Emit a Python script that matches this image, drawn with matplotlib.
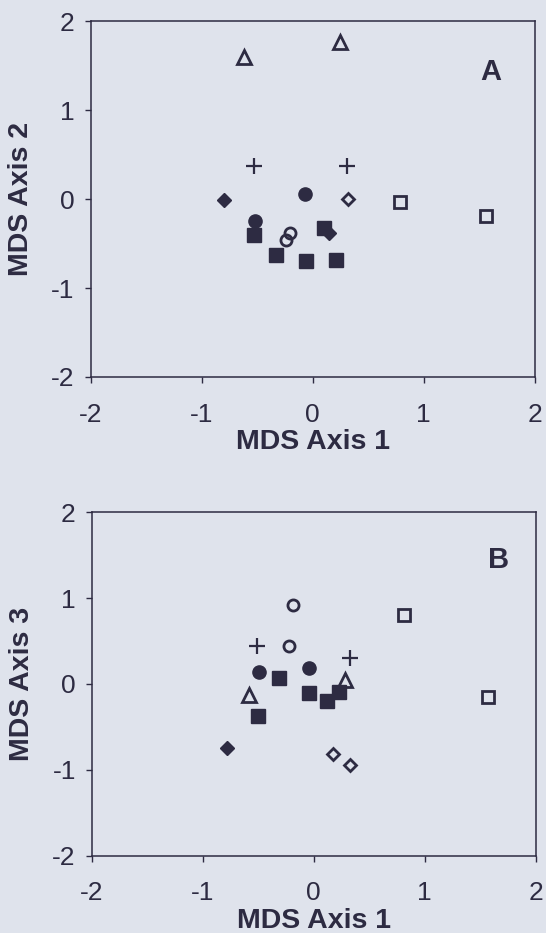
import matplotlib
matplotlib.use("Agg")
from matplotlib import pyplot as plt

# panel A: MDS axis 1 vs axis 2
a_fsq_x = [-0.53, 0.10, -0.33, -0.06, 0.21]
a_fsq_y = [-0.40, -0.32, -0.63, -0.70, -0.68]
a_fci_x = [-0.07, -0.52]
a_fci_y = [0.06, -0.24]
a_fdi_x = [-0.80, 0.15]
a_fdi_y = [-0.01, -0.38]
a_oci_x = [-0.20, -0.24]
a_oci_y = [-0.38, -0.46]
a_odi_x = [0.32]
a_odi_y = [0.00]
a_osq_x = [0.79, 1.56]
a_osq_y = [-0.03, -0.19]
a_tri_x = [-0.62, 0.25]
a_tri_y = [1.60, 1.77]
a_crs_x = [-0.53, 0.31]
a_crs_y = [0.37, 0.37]

# panel B: MDS axis 1 vs axis 3
b_fsq_x = [-0.31, -0.04, 0.23, 0.12, -0.50]
b_fsq_y = [0.07, -0.11, -0.09, -0.20, -0.37]
b_fci_x = [-0.49, -0.04]
b_fci_y = [0.14, 0.18]
b_fdi_x = [-0.78]
b_fdi_y = [-0.75]
b_oci_x = [-0.19, -0.22]
b_oci_y = [0.92, 0.44]
b_odi_x = [0.17, 0.33]
b_odi_y = [-0.82, -0.95]
b_osq_x = [0.81, 1.57]
b_osq_y = [0.80, -0.15]
b_tri_x = [-0.58, 0.28]
b_tri_y = [-0.13, 0.05]
b_crs_x = [-0.51, 0.33]
b_crs_y = [0.44, 0.30]

ticks = [-2, -1, 0, 1, 2]
bg = '#dfe3ec'
ink = '#2d2b42'

plt.rcParams['font.family'] = ['Liberation Sans', 'DejaVu Sans']
plt.rcParams['axes.unicode_minus'] = False

fig = plt.figure(figsize=(5.46, 9.33), dpi=100)
fig.patch.set_facecolor(bg)

ax1 = fig.add_axes([0.166, 0.596, 0.813, 0.381])
ax2 = fig.add_axes([0.168, 0.083, 0.813, 0.368])


def draw(ax, d, ylab, tag, xpad):
    ax.set_facecolor(bg)
    ax.plot(d['tri'][0], d['tri'][1], ls='none', marker='^', ms=9.5, mfc='none', mec=ink, mew=2)
    ax.plot(d['crs'][0], d['crs'][1], ls='none', marker='+', ms=11, mec=ink, mew=1.6)
    ax.plot(d['osq'][0], d['osq'][1], ls='none', marker='s', ms=9, mfc='none', mec=ink, mew=2)
    ax.plot(d['oci'][0], d['oci'][1], ls='none', marker='o', ms=8, mfc='none', mec=ink, mew=2)
    ax.plot(d['odi'][0], d['odi'][1], ls='none', marker='D', ms=6.5, mfc='none', mec=ink, mew=2)
    ax.plot(d['fsq'][0], d['fsq'][1], ls='none', marker='s', ms=10.5, mfc=ink, mec=ink)
    ax.plot(d['fci'][0], d['fci'][1], ls='none', marker='o', ms=9.5, mfc=ink, mec=ink)
    ax.plot(d['fdi'][0], d['fdi'][1], ls='none', marker='D', ms=7, mfc=ink, mec=ink)

    ax.set_xlim(-2, 2)
    ax.set_ylim(-2, 2)
    ax.set_xticks(ticks)
    ax.set_yticks(ticks)
    ax.tick_params(direction='out', length=4.5, width=1, colors=ink, labelsize=19)
    ax.tick_params(axis='x', pad=xpad)
    ax.tick_params(axis='y', pad=7)
    for s in ax.spines.values():
        s.set_color(ink)
        s.set_linewidth(1.1)
    ax.set_xlabel('MDS Axis 1', fontsize=20.5, fontweight='bold', color=ink)
    ax.set_ylabel(ylab, fontsize=20.5, fontweight='bold', color=ink)
    ax.text(tag[1], tag[2], tag[0], fontsize=21, fontweight='bold', color=ink,
            ha='center', va='center')


da = {'fsq': (a_fsq_x, a_fsq_y), 'fci': (a_fci_x, a_fci_y), 'fdi': (a_fdi_x, a_fdi_y),
      'oci': (a_oci_x, a_oci_y), 'odi': (a_odi_x, a_odi_y), 'osq': (a_osq_x, a_osq_y),
      'tri': (a_tri_x, a_tri_y), 'crs': (a_crs_x, a_crs_y)}
db = {'fsq': (b_fsq_x, b_fsq_y), 'fci': (b_fci_x, b_fci_y), 'fdi': (b_fdi_x, b_fdi_y),
      'oci': (b_oci_x, b_oci_y), 'odi': (b_odi_x, b_odi_y), 'osq': (b_osq_x, b_osq_y),
      'tri': (b_tri_x, b_tri_y), 'crs': (b_crs_x, b_crs_y)}

draw(ax1, da, 'MDS Axis 2', ('A', 1.61, 1.43), 14)
draw(ax2, db, 'MDS Axis 3', ('B', 1.67, 1.44), 14)

ax1.xaxis.set_label_coords(0.5, -0.146)
ax1.yaxis.set_label_coords(-0.128, 0.5)
ax2.xaxis.set_label_coords(0.5, -0.154)
ax2.yaxis.set_label_coords(-0.127, 0.5)

fig.savefig('out.png', dpi=100, facecolor=bg)
